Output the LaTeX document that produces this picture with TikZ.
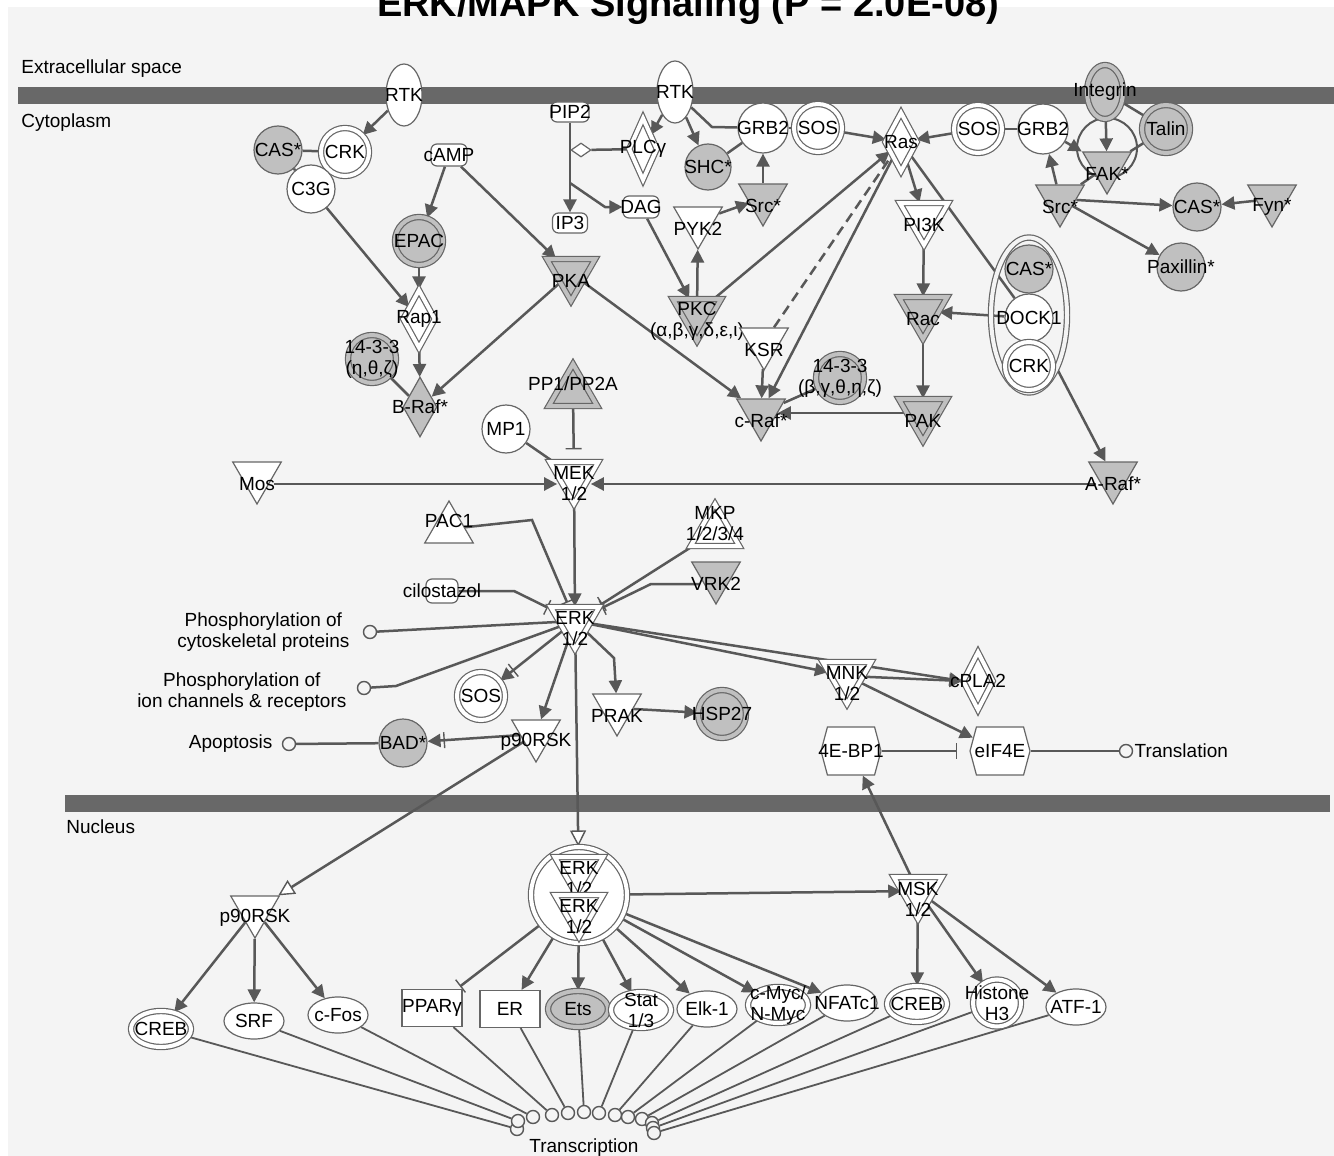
\documentclass[tikz,border=0pt]{standalone}
\usepackage{fontspec}
\setmainfont{Liberation Sans}
\usetikzlibrary{shapes.geometric, shapes.symbols, arrows.meta, positioning}
\definecolor{Panel}{HTML}{F4F4F4}
\definecolor{Membrane}{HTML}{686868}
\definecolor{EdgeGrey}{HTML}{585858}
\definecolor{NodeLine}{HTML}{666666}
\definecolor{Shade}{HTML}{C0C0C0}
\newcommand{\nodefont}{\fontsize{9.5}{10.5}\selectfont}
\newcommand{\titlefont}{\fontsize{19}{22}\selectfont\bfseries}
\pgfdeclarelayer{bg}
\pgfsetlayers{bg,main}
\tikzset{
  nlab/.style={font=\nodefont, inner sep=0pt, align=center},
  txt/.style={label={[nlab]center:#1}},
  shp/.style={draw=NodeLine, line width=0.6pt, inner sep=0pt, fill=white},
  grp/.style={double=white, double distance=2pt},
  hit/.style={fill=Shade},
  hitgrp/.style={fill=Shade, double=Shade, double distance=2pt},
  other/.style={shp, circle, minimum size=24pt, txt={#1}},
  ring/.style={shp, grp, circle},
  kinase/.style={shp, regular polygon, regular polygon sides=3, shape border rotate=180,
    minimum size=28pt, label={[nlab, yshift=-4pt]center:#1}},
  phosphatase/.style={shp, regular polygon, regular polygon sides=3,
    minimum size=28pt, label={[nlab, yshift=4pt]center:#1}},
  enzyme/.style={shp, diamond, minimum width=16pt, minimum height=30pt, txt={#1}},
  chemical/.style={shp, rounded corners=3pt, minimum width=18pt, minimum height=11pt, txt={#1}},
  receptor/.style={shp, ellipse, minimum width=18pt, minimum height=31pt, txt={#1}},
  regulator/.style={shp, ellipse, minimum width=30pt, minimum height=18pt, txt={#1}},
  nreceptor/.style={shp, rectangle, minimum width=30pt, minimum height=18.5pt, txt={#1}},
  translator/.style={shp, signal, signal to=west and east, signal pointer angle=150,
    minimum width=30pt, minimum height=24pt, txt={#1}},
  cplxring/.style={draw=NodeLine, line width=0.6pt, double=Panel, double distance=2pt,
    ellipse, minimum width=38pt, minimum height=77.5pt, inner sep=0pt},
  fn/.style={circle, draw=EdgeGrey, line width=0.7pt, fill=Panel, minimum size=6.5pt, inner sep=0pt},
  con/.style={draw=EdgeGrey, line width=1.25pt},
  act/.style={con, -{Triangle[length=6.5pt, width=6.5pt]}},
  inh/.style={con, -{Bar[width=8pt, line width=0.7pt]}, shorten >=2pt},
  actinh/.style={con, -{Bar[width=8pt, line width=0.7pt, sep=1.5pt] Triangle[length=6.5pt, width=6.5pt]}},
  move/.style={con, -{Triangle[length=8pt, width=8pt, fill=white, line width=0.7pt]}}
}

\begin{document}
\begin{tikzpicture}[x=0.5pt, y=-0.5pt]
  \useasboundingbox (0,0) rectangle (1334,1156);

  % compartments
  \node[nlab, anchor=west] (extra) at (21,69) {Extracellular space};
  \node[nlab, anchor=west] (cyto) at (21,123) {Cytoplasm};
  \node[nlab, anchor=west] (nucl) at (66,827) {Nucleus};
  \node[font=\titlefont, anchor=base] (title) at (688,17) {ERK/MAPK Signaling (P = 2.0E-08)};

  % membrane receptors
  \node[receptor=RTK] (rtka) at (404,95) {};
  \node[receptor=RTK] (rtkb) at (675,92) {};
  \node[receptor=Integrin, hitgrp, minimum height=27pt] (itg) at (1105,92) {};

  % cAMP / Rap1 / B-Raf
  \node[other=CAS*, hit] (casa) at (278,150) {};
  \node[other=CRK, grp] (crka) at (345,152) {};
  \node[other=C3G] (cthreeg) at (311,189) {};
  \node[chemical=cAMP] (camp) at (449,155) {};
  \node[other=EPAC, hitgrp] (epac) at (419,241) {};
  \node[enzyme=Rap1, grp, minimum height=29pt] (rap) at (419,319) {};
  \node[other={14-3-3\\(η,θ,ζ)}, hitgrp] (ywhaa) at (372,359) {};
  \node[enzyme=B-Raf*, hit, minimum width=17pt] (braf) at (420,407) {};
  \node[kinase=PKA, hitgrp] (pka) at (571,273) {};

  % PLC / PKC / Ras
  \node[chemical=PIP2, minimum width=19pt, minimum height=10pt] (pip) at (570,112) {};
  \node[chemical=IP3, minimum width=17.5pt, minimum height=10pt] (ipthree) at (570,223) {};
  \node[chemical=DAG] (dag) at (641,207) {};
  \node[enzyme=PLCγ, grp, minimum width=14pt, minimum height=31pt] (plcg) at (643,149) {};
  \node[shp, diamond, minimum width=10pt, minimum height=7pt] (plcsite) at (581,150) {};
  \node[other=SHC*, hit, minimum size=23pt] (shc) at (708,167) {};
  \node[other=GRB2, minimum size=25pt] (grbb) at (763,128) {};
  \node[other=SOS, grp] (sosb) at (818,128) {};
  \node[kinase=Src*, hit] (srcb) at (763,198) {};
  \node[kinase=PYK2] (pyk) at (698,221) {};
  \node[kinase={PKC\\(α,β,γ,δ,ε,ι)}, hitgrp] (pkc) at (697,313) {};
  \node[kinase=KSR] (ksr) at (764,342) {};
  \node[enzyme=Ras, grp, minimum height=29.5pt] (ras) at (901,142) {};
  \node[kinase=PI3K, grp] (pik) at (924,217) {};
  \node[kinase=Rac, hitgrp] (rac) at (923,311) {};
  \node[kinase=PAK, hitgrp] (pak) at (923,413) {};
  \node[kinase=c-Raf*, hit] (craf) at (761,413) {};
  \node[other={14-3-3\\(β,γ,θ,η,ζ)}, hitgrp] (ywhab) at (840,378) {};

  % integrin side
  \node[other=SOS, grp] (sosc) at (978,129) {};
  \node[other=GRB2, minimum size=25pt] (grbc) at (1043,129) {};
  \node[other=Talin, hitgrp] (talin) at (1166,129) {};
  \node[kinase=FAK*, hit] (fak) at (1107,166) {};
  \node[kinase=Src*, hit] (srcc) at (1060,199) {};
  \node[other=CAS*, hit] (casc) at (1197,207) {};
  \node[kinase=Fyn*, hit] (fyn) at (1272,199) {};
  \node[other=Paxillin*, hit] (pax) at (1181,267) {};
  \node[cplxring] (cplx) at (1029,315) {};
  \node[other=CAS*, hit] (casd) at (1029,269) {};
  \node[other=DOCK1] (dock) at (1029,318) {};
  \node[other=CRK, grp] (crkd) at (1029,366) {};

  % MEK level
  \node[phosphatase=PP1/PP2A, hitgrp] (ppa) at (573,392) {};
  \node[other=MP1] (mpone) at (506,429) {};
  \node[kinase=Mos] (mos) at (257,476) {};
  \node[kinase={MEK\\1/2}, grp] (mek) at (574,476) {};
  \node[kinase=A-Raf*, hit] (araf) at (1113,476) {};

  % ERK level
  \node[phosphatase=PAC1] (pac) at (449,529) {};
  \node[chemical=cilostazol, minimum width=16pt, minimum height=12pt] (cilo) at (442,591) {};
  \node[phosphatase={MKP\\1/2/3/4}, grp] (mkp) at (715,532) {};
  \node[kinase=VRK2, hit] (vrk) at (716,576) {};
  \node[kinase={ERK\\1/2}, grp] (erk) at (575,621) {};
  \node[fn] (fcyto) at (370,632) {};
  \node[fn] (fion) at (364,688) {};
  \node[nlab, left=6.5pt of fcyto] (cytotxt) {Phosphorylation of\\cytoskeletal proteins};
  \node[nlab, left=5pt of fion, yshift=-2pt] (iontxt) {Phosphorylation of\\ion channels \& receptors};
  \node[other=SOS, grp] (sosd) at (481,696) {};
  \node[kinase=p90RSK] (prsk) at (536,734) {};
  \node[other=BAD*, hit] (bad) at (403,743) {};
  \node[fn] (fapo) at (289,744) {};
  \node[nlab, left=4.5pt of fapo] (apotxt) {Apoptosis};
  \node[kinase=PRAK] (prak) at (617,708) {};
  \node[other=HSP27, hitgrp] (hsp) at (722,714) {};
  \node[kinase={MNK\\1/2}, grp] (mnk) at (847,676) {};
  \node[enzyme=cPLA2, grp, minimum width=15pt, minimum height=29pt] (cpla) at (978,681) {};
  \node[translator=4E-BP1] (bp) at (851,751) {};
  \node[translator=eIF4E] (eif) at (1000,751) {};
  \node[fn] (ftrans) at (1126,751) {};
  \node[nlab, right=0.5pt of ftrans] (transtxt) {Translation};

  % nucleus
  \node[ring, minimum size=48pt] (nerk) at (579,895) {};
  \node[kinase={ERK\\1/2}, grp] (nerka) at (579,871) {};
  \node[kinase={ERK\\1/2}, grp] (nerkb) at (579,909) {};
  \node[kinase=p90RSK] (nprsk) at (255,910) {};
  \node[kinase={MSK\\1/2}, grp] (msk) at (918,891) {};
  \node[regulator=CREB, grp] (crebl) at (161,1029) {};
  \node[regulator=SRF] (srf) at (254,1021) {};
  \node[regulator=c-Fos] (cfos) at (338,1015) {};
  \node[nreceptor=PPARγ] (ppar) at (432,1008) {};
  \node[nreceptor=ER] (er) at (510,1009) {};
  \node[regulator=Ets, hitgrp] (ets) at (578,1009) {};
  \node[regulator={Stat\\1/3}, grp] (stat) at (641,1010) {};
  \node[regulator=Elk-1] (elk) at (707,1009) {};
  \node[regulator={c-Myc/\\N-Myc}, grp] (myc) at (778,1005) {};
  \node[regulator=NFATc1] (nfat) at (847,1003) {};
  \node[regulator=CREB, grp] (crebr) at (917,1004) {};
  \node[regulator={Histone\\H3}, grp, minimum width=24pt, minimum height=23.5pt] (hist) at (997,1003) {};
  \node[regulator=ATF-1] (atf) at (1076,1007) {};
  \foreach \t/\x/\y in {crebl/517/1129, srf/518/1121, cfos/533/1117, ppar/552/1115,
      er/568/1113, ets/584/1112, stat/599/1113, elk/615/1115, myc/628/1117,
      nfat/642/1119, crebr/652/1123, hist/653/1128, atf/654/1133}
    \node[fn] (tx\t) at (\x,\y) {};
  \node[nlab, below=9.5pt of txets] (txlabel) {Transcription};

  \begin{pgfonlayer}{bg}
    \fill[white] (0,0) rectangle (1334,1156);
    \fill[Panel] (8,7) rectangle (1334,1156);
    \fill[Membrane] (18,87) rectangle (1334,104);
    \fill[Membrane] (65,795) rectangle (1330,812);

    % cAMP / Rap1 / B-Raf
    \draw[act] (rtka) -- (crka);
    \draw[con] (casa) -- (crka);
    \draw[con] (casa) -- (cthreeg);
    \draw[act] (cthreeg) -- (rap);
    \draw[act] (camp) -- (epac);
    \draw[act] (camp) -- (pka);
    \draw[act] (epac) -- (rap);
    \draw[act] (rap) -- (braf);
    \draw[con] (ywhaa) -- (braf);
    \draw[act] (pka) -- (braf);
    \draw[act] (pka) -- (craf);

    % PLC / PKC / Ras
    \draw[act] (pip) -- (ipthree);
    \coordinate (fork) at (570,183);
    \draw[act] (fork) -- (605,207) -- (dag);
    \draw[con] (plcsite) -- (plcg);
    \draw[act] (rtkb) -- (plcg);
    \draw[act] (rtkb) -- (shc);
    \draw[con] (rtkb) -- (712,127) -- (grbb);
    \draw[con] (shc) -- (grbb);
    \draw[con] (grbb) -- (sosb);
    \draw[act] (sosb) -- (ras);
    \draw[act] (srcb) -- (grbb);
    \draw[act] (pyk) -- (srcb);
    \draw[act] (pkc) -- (pyk);
    \draw[act] (dag) -- (pkc);
    \draw[act] (pkc) -- (ras);
    \draw[con, dash pattern=on 5pt off 3pt] (ksr) -- (ras);
    \draw[act] (ras) -- (craf);
    \draw[act] (ksr) -- (craf);
    \draw[con] (ywhab) -- (craf);
    \draw[act] (pak) -- (craf);
    \draw[act] (ras) -- (pik);
    \draw[con] (ras) -- (dock);
    \draw[act] (pik) -- (rac);
    \draw[act] (dock) -- (rac);
    \draw[act] (rac) -- (pak);

    % integrin side
    \draw[act] (sosc) -- (ras);
    \draw[con] (sosc) -- (grbc);
    \draw[act] (grbc) -- (fak);
    \draw[act] (srcc) -- (grbc);
    \draw[con, line width=1pt] (1107,148) circle[radius=30];
    \draw[act] (itg) -- (fak);
    \draw[con] (itg) -- (talin);
    \draw[con] (talin) -- (fak);
    \draw[con] (fak) -- (srcc);
    \draw[act] (srcc) -- (casc);
    \draw[act] (fyn) -- (casc);
    \draw[act] (srcc) -- (pax);
    \draw[act] (cplx) -- (araf);

    % MEK level
    \draw[act] ([yshift=-4pt]mos.east) -- ([yshift=-4pt]mek.west);
    \draw[act] ([yshift=-4pt]araf.west) -- ([yshift=-4pt]mek.east);
    \draw[con] (mpone) -- (mek);
    \draw[inh, shorten >=6pt] (ppa) -- (mek);
    \draw[act] (mek) -- (erk);

    % ERK level
    \draw[inh] (pac) -- (532,520) -- (erk);
    \draw[inh] (cilo) -- (514,591) -- (erk);
    \draw[inh] (mkp) -- (erk);
    \draw[inh] ([yshift=-4pt]vrk.west) -- (651,584) -- (erk);
    \draw[con] (fcyto) -- (erk);
    \draw[con] (fion) -- (396,686) -- (erk);
    \draw[actinh] (erk) -- (sosd);
    \draw[act] (erk) -- (prsk);
    \draw[actinh] (prsk) -- (bad);
    \draw[con] (bad) -- (fapo);
    \draw[act] (erk) -- (614,658) -- (prak);
    \draw[act] (prak) -- (hsp);
    \draw[act] (erk) -- (mnk);
    \draw[act] (erk) -- (cpla.west);
    \draw[act] (mnk) -- (cpla.west);
    \draw[act] (mnk) -- (eif);
    \draw[inh, shorten >=6pt] (bp) -- (eif);
    \draw[con] (eif) -- (ftrans);

    % nucleus
    \draw[move] (erk) -- (nerk);
    \draw[move] (prsk) -- (nprsk);
    \foreach \t in {crebl, srf, cfos}
      \draw[act] (nprsk) -- (\t);
    \draw[inh] (nerk) -- (ppar);
    \foreach \t in {er, ets, stat, elk, myc, nfat, msk}
      \draw[act] (nerk) -- (\t);
    \foreach \t in {crebr, hist, atf}
      \draw[act] (msk) -- (\t);
    \draw[act] (msk) -- (bp);
    \foreach \t in {crebl, srf, cfos, ppar, er, ets, stat, elk, myc, nfat, crebr, hist, atf}
      \draw[con, line width=0.9pt] (\t) -- (tx\t);
  \end{pgfonlayer}
\end{tikzpicture}
\end{document}
